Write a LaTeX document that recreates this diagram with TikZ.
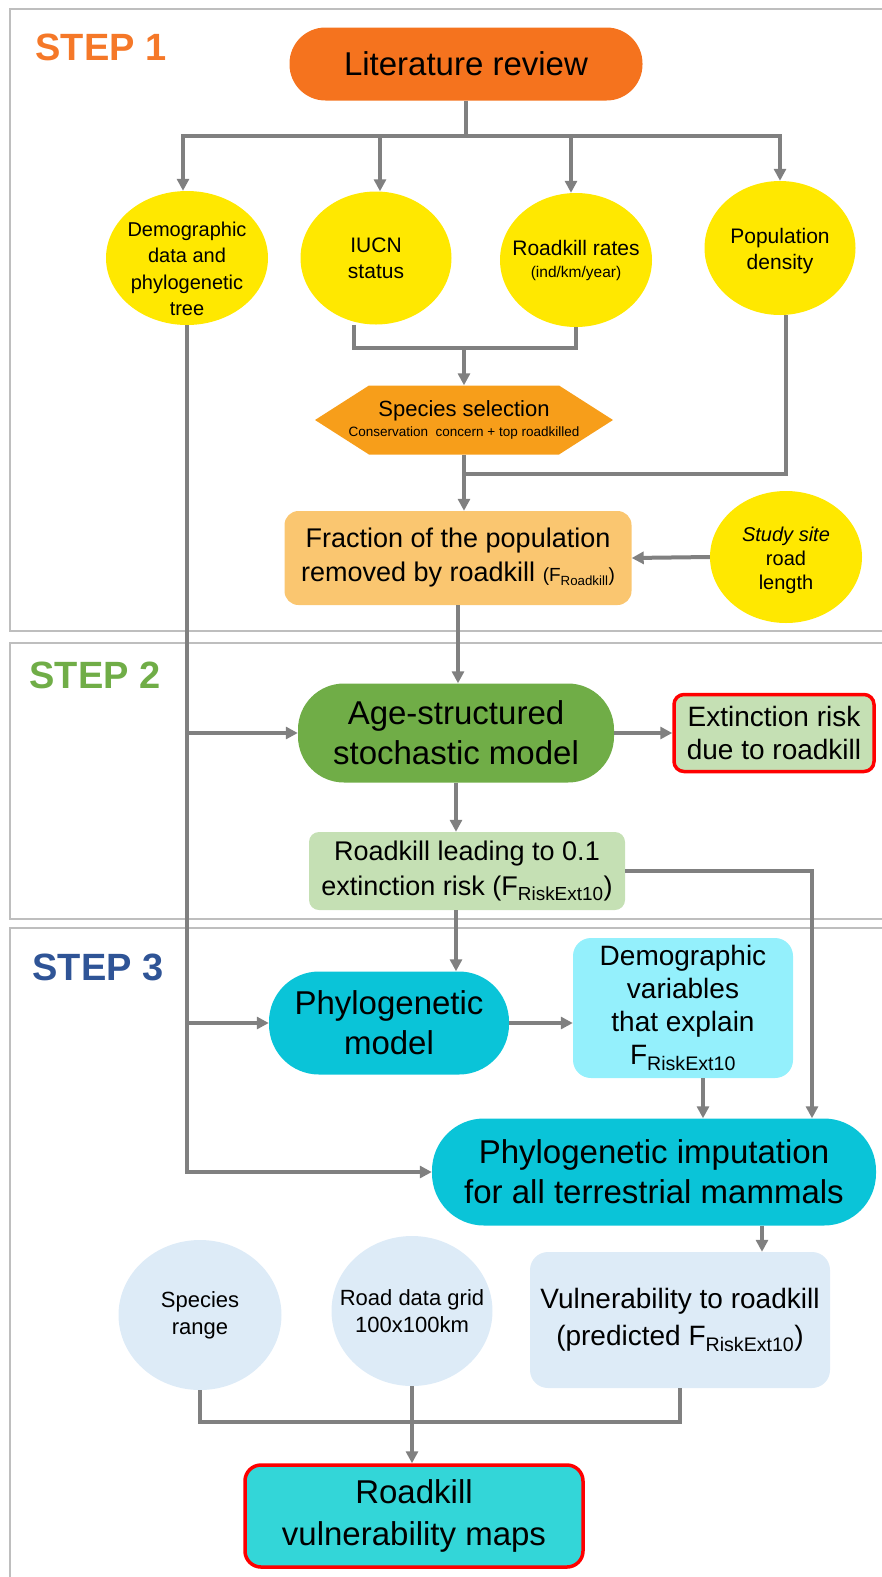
\documentclass[tikz,border=0pt]{standalone}
\usepackage{fontspec}
\setmainfont{Liberation Sans}
\usetikzlibrary{arrows.meta,shapes.geometric}

\definecolor{linegray}{RGB}{128,128,128}
\definecolor{panelgray}{RGB}{190,190,190}
\definecolor{litorange}{RGB}{245,115,30}
\definecolor{steporange}{RGB}{245,120,40}
\definecolor{sunyellow}{RGB}{255,232,0}
\definecolor{selorange}{RGB}{247,158,26}
\definecolor{fracorange}{RGB}{250,198,112}
\definecolor{agegreen}{RGB}{112,173,71}
\definecolor{palegreen}{RGB}{197,224,180}
\definecolor{phycyan}{RGB}{10,196,216}
\definecolor{palecyan}{RGB}{148,240,252}
\definecolor{stepblue}{RGB}{47,84,150}
\definecolor{paleblue}{RGB}{221,235,247}
\definecolor{mapteal}{RGB}{51,214,216}
\definecolor{alertred}{RGB}{255,0,0}

\newcommand{\fsz}[2]{\fontsize{#1}{#2}\selectfont}

\begin{document}
\begin{tikzpicture}[x=1pt, y=-1pt,
    conn/.style={draw=linegray, line width=4pt},
    arr/.style={conn, -{Triangle[length=12pt,width=12pt]}},
    panel/.style={draw=panelgray, line width=1.8pt},
    steplab/.style={anchor=west, font=\fsz{38}{40}\bfseries},
    blob/.style={ellipse, inner sep=0pt, fill=sunyellow},
    blobtext/.style={align=center, inner sep=0pt},
    pill/.style={rectangle, rounded corners=#1, inner sep=2pt, align=center},
    pill/.default=48pt,
    card/.style={rectangle, rounded corners=#1, inner sep=2pt, align=center},
    card/.default=12pt,
    hexbox/.style={rectangle, inner sep=0pt, align=center, path picture={
        \fill[#1] (path picture bounding box.west)
          -- ([xshift=54pt]path picture bounding box.north west)
          -- ([xshift=-54pt]path picture bounding box.north east)
          -- (path picture bounding box.east)
          -- ([xshift=-54pt]path picture bounding box.south east)
          -- ([xshift=54pt]path picture bounding box.south west) -- cycle;}},
    alert/.style={draw=alertred, line width=3.5pt}]
  \useasboundingbox (0,0) rectangle (882,1577);
  \clip (0,0) rectangle (882,1577);

  % 1. panels and step labels
  \draw[panel] (10,9) rectangle (900,631);
  \draw[panel] (10,643) rectangle (900,919);
  \draw[panel] (10,928) rectangle (900,1600);
  \node[steplab, text=steporange] (s1) at (32,47) {STEP 1};
  \node[steplab, text=agegreen] (s2) at (26,675) {STEP 2};
  \node[steplab, text=stepblue] (s3) at (29,967) {STEP 3};

  % 2. step 1 nodes (ellipse texts as centre labels, so the ellipse keeps its size)
  \node[pill=36pt, fill=litorange, minimum width=353, minimum height=73, font=\fsz{33}{40}] (lit) at (466,64) {Literature review};
  \node[blob, minimum width=162, minimum height=134,
        label={[blobtext, font=\fsz{20}{26.5}, yshift=-11pt]center:{Demographic\\data and\\phylogenetic\\tree}}] (demo) at (187,258) {};
  \node[blob, minimum width=151, minimum height=133,
        label={[blobtext, font=\fsz{21}{26}]center:{IUCN\\status}}] (iucn) at (376,258) {};
  \node[blob, minimum width=152, minimum height=134,
        label={[blobtext, font=\fsz{21}{22}]center:{Roadkill rates\\{\fsz{15.5}{18}(ind/km/year)}}}] (rate) at (576,260) {};
  \node[blob, minimum width=151, minimum height=134,
        label={[blobtext, font=\fsz{21}{26}, yshift=-3pt]center:{Population\\density}}] (dens) at (780,248) {};
  \node[hexbox=selorange, minimum width=298, minimum height=69, font=\fsz{22}{22}] (sel) at (464,420)
        {Species selection\\[-2pt]{\fsz{13.5}{16}Conservation\ \ concern + top roadkilled}};
  \node[card=14pt, fill=fracorange, minimum width=347, minimum height=94, font=\fsz{27}{34}] (frac) at (458,558) {Fraction of the population\\removed by roadkill {\fsz{19}{24}(F\textsubscript{Roadkill})}};
  \node[blob, minimum width=152, minimum height=132,
        label={[blobtext, font=\fsz{20}{24}, yshift=-3pt]center:{\textit{Study site}\\road\\length}}] (study) at (786,557) {};

  % 3. step 2 nodes
  \node[pill=46pt, fill=agegreen, minimum width=316, minimum height=99, font=\fsz{33}{40}] (age) at (456,733) {Age-structured\\stochastic model};
  \node[card=10pt, fill=palegreen, alert, minimum width=200, minimum height=77, font=\fsz{28}{33}] (ext) at (774,733) {Extinction risk\\due to roadkill};
  \node[card=10pt, fill=palegreen, minimum width=316, minimum height=78, font=\fsz{27}{35}] (lead) at (467,871) {Roadkill leading to 0.1\\extinction risk (F\textsubscript{RiskExt10})};

  % 4. step 3 nodes
  \node[pill=50pt, fill=phycyan, minimum width=240, minimum height=103, font=\fsz{33}{40}] (phy) at (389,1023) {Phylogenetic\\model};
  \node[card=18pt, fill=palecyan, minimum width=220, minimum height=140, font=\fsz{28}{33}] (var) at (683,1008) {Demographic\\variables\\that explain\\F\textsubscript{RiskExt10}};
  \node[pill=52pt, fill=phycyan, minimum width=444, minimum height=107, font=\fsz{33}{40}] (imp) at (654,1172) {Phylogenetic imputation\\for all terrestrial mammals};
  \node[blob, fill=paleblue, minimum width=163, minimum height=150,
        label={[blobtext, font=\fsz{22}{27}]center:{Species\\range}}] (range) at (200,1315) {};
  \node[blob, fill=paleblue, minimum width=161, minimum height=150,
        label={[blobtext, font=\fsz{22}{27}]center:{Road data grid\\100x100km}}] (grid) at (412,1311) {};
  \node[card=18pt, fill=paleblue, minimum width=300, minimum height=136, font=\fsz{28}{37}] (vul) at (680,1320) {Vulnerability to roadkill\\(predicted F\textsubscript{RiskExt10})};
  \node[card=16pt, fill=mapteal, alert, minimum width=338, minimum height=102, font=\fsz{33}{42}] (maps) at (414,1516) {Roadkill\\vulnerability maps};

  % 5. connectors
  \coordinate (br) at (466,136);
  \coordinate (j1) at (464,348);
  \coordinate (j2) at (464,474);
  \coordinate (j3) at (412,1422);
  \draw[conn] (lit.south) -- (br);
  \draw[arr] (br) -| ([xshift=-4pt]demo.north);
  \draw[arr] (br) -| (dens.north);
  \draw[arr] ([xshift=4pt]iucn.north |- br) -- ([xshift=4pt]iucn.north);
  \draw[arr] ([xshift=-5pt]rate.north |- br) -- ([xshift=-5pt]rate.north);
  \draw[conn] ([xshift=-22pt]iucn.south) |- (j1) -| (rate.south);
  \draw[arr] (j1) -- (sel.north);
  \draw[conn] ([xshift=6pt]dens.south) |- (j2);
  \draw[arr] (sel.south) -- (sel.south |- frac.north);
  \draw[arr] (study.west) -- (frac.east);
  \draw[arr] (frac.south) -- (frac.south |- age.north);
  \draw[arr] (demo.south) |- (imp.west);
  \draw[arr] (demo.south |- age.west) -- (age.west);
  \draw[arr] (demo.south |- phy.west) -- (phy.west);
  \draw[arr] (age.east) -- (ext.west);
  \draw[arr] (age.south) -- (lead.north -| age.south);
  \draw[arr] (lead.east) -| ([xshift=158pt]imp.north);
  \draw[arr] (age.south |- lead.south) -- (age.south |- phy.north);
  \draw[arr] (phy.east) -- (phy.east -| var.west);
  \draw[arr] ([xshift=20pt]var.south) -- ([xshift=20pt]var.south |- imp.north);
  \draw[arr] ([xshift=108pt]imp.south) -- ([xshift=108pt]imp.south |- vul.north);
  \draw[conn] (range.south) |- (vul.south |- j3) -- (vul.south);
  \draw[arr] (grid.south) -- (grid.south |- maps.north);
\end{tikzpicture}
\end{document}
